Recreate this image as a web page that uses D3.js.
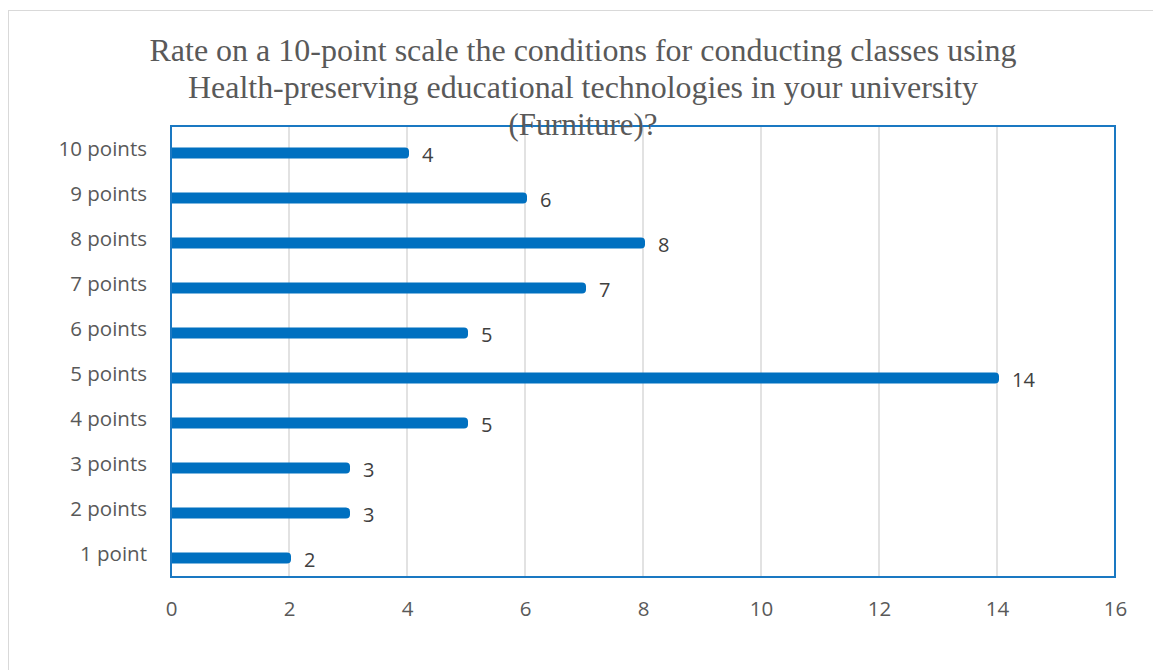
<!DOCTYPE html>
<html><head><meta charset="utf-8">
<script src="https://cdn.jsdelivr.net/npm/d3@7"></script>
<style>body{margin:0;background:#fff}</style>
</head><body>
<svg id="c" width="1153" height="670"></svg>
<script>
const categories = ["10 points","9 points","8 points","7 points","6 points","5 points","4 points","3 points","2 points","1 point"];
const values = [4,6,8,7,5,14,5,3,3,2];
const xTicks = [0,2,4,6,8,10,12,14,16];
const titleLines = ["Rate on a 10-point scale the conditions for conducting classes using","Health-preserving educational technologies in your university","(Furniture)?"];
const titleWidths = [867,790,149];

const svg = d3.select("#c");
svg.append("rect").attr("x",8.5).attr("y",10.5).attr("width",1160).attr("height",680)
  .attr("fill","#fff").attr("stroke","#d9d9d9");

const L=171, R=1115, T=126, B=577;
const x = d3.scaleLinear().domain([0,16]).range([L,R]);
const yL = d3.scalePoint().domain(categories).range([149,554]);

// gridlines
svg.append("g").selectAll("line").data(xTicks.slice(1,-1)).join("line")
  .attr("x1",d=>x(d)).attr("x2",d=>x(d)).attr("y1",T).attr("y2",B)
  .attr("stroke","#d9d9d9").attr("stroke-width",1.5);

// bars
const bh=11;
svg.append("g").selectAll("path").data(values).join("path")
  .attr("d",(d,i)=>{
    const y0=yL(categories[i])+4-bh/2, x0=x(0), x1=x(d)+2, r=4;
    return `M${x0},${y0}H${x1-r}A${r},${r} 0 0 1 ${x1},${y0+r}V${y0+bh-r}A${r},${r} 0 0 1 ${x1-r},${y0+bh}H${x0}Z`;
  }).attr("fill","#0070c0");

// value labels
svg.append("g").selectAll("text").data(values).join("text")
  .attr("x",d=>x(d)+15).attr("y",(d,i)=>yL(categories[i])+6)
  .attr("dy","0.35em").text(d=>d)
  .attr("font-family","Open Sans, sans-serif").attr("font-size",20).attr("fill","#404040");

// plot border
svg.append("rect").attr("x",L).attr("y",T).attr("width",R-L).attr("height",B-T)
  .attr("fill","none").attr("stroke","#1a78c2").attr("stroke-width",2);

// y labels
svg.append("g").selectAll("text").data(categories).join("text")
  .attr("x",147).attr("y",d=>yL(d)).attr("dy","0.35em").attr("text-anchor","end")
  .text(d=>d).attr("font-family","Open Sans, sans-serif").attr("font-size",20.5).attr("fill","#595959");

// x tick labels
const xAxis = d3.axisBottom(x).tickValues(xTicks).tickSize(0).tickPadding(0);
const gx = svg.append("g").attr("transform",`translate(0,${B+24})`).call(xAxis);
gx.select(".domain").remove();
gx.selectAll("text").attr("font-family","Open Sans, sans-serif").attr("font-size",20.5).attr("fill","#595959");

// title
svg.append("g").selectAll("text").data(titleLines).join("text")
  .attr("x",583).attr("y",(d,i)=>61+i*37).attr("text-anchor","middle")
  .attr("textLength",(d,i)=>titleWidths[i]).attr("lengthAdjust","spacingAndGlyphs")
  .text(d=>d).attr("font-family","Liberation Serif, serif").attr("font-size",31).attr("fill","#595959");
</script>
</body></html>
